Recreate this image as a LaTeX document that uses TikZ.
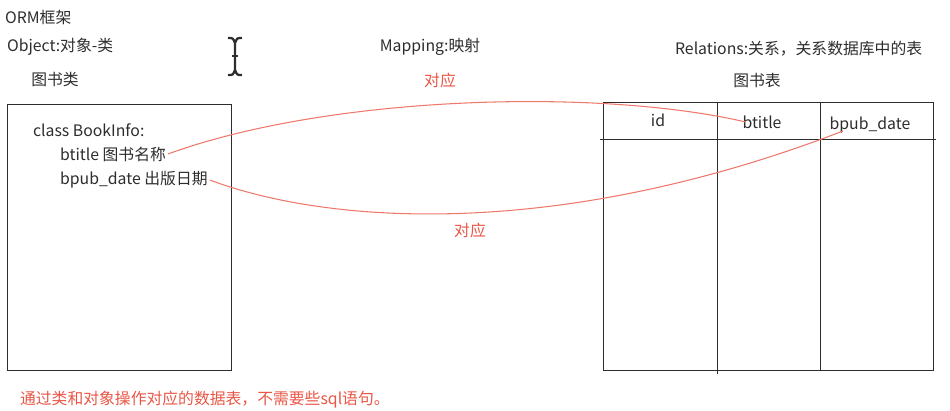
\documentclass[tikz,border=0pt]{standalone}
\usepackage{fontspec}
\setmainfont{Noto Sans CJK SC}
\usepackage{tikz}
\usetikzlibrary{positioning}
\definecolor{maptext}{RGB}{45,45,45}
\definecolor{mapred}{RGB}{232,86,70}

\begin{document}
\begin{tikzpicture}[x=0.02cm, y=-0.02cm, font=\fontsize{9}{11}\selectfont,
	lbl/.style={text=maptext, inner sep=1pt},
	redlbl/.style={text=mapred, inner sep=1pt},
	grid/.style={draw=maptext, line width=0.5pt},
	link/.style={draw=mapred!80, line width=0.6pt}]

\useasboundingbox (0,0) rectangle (950,411);

\node at (3,17) [lbl, anchor=west] (orm) {ORM框架};
\node at (5,47) [lbl, anchor=west] (obj) {Object:对象-类};
\node at (55,80) [lbl] (clsname) {图书类};
\node at (430,47) [lbl] (mapping) {Mapping:映射};
\node at (673,49) [lbl, anchor=west] (rel) {Relations:关系，关系数据库中的表};
\node at (757,80) [lbl] (tblname) {图书表};

\node at (7,104) [rectangle, grid, minimum width = 4.48cm, minimum height = 5.32cm, inner sep=0, anchor=north west] (book) {};
\node at (31,130) [lbl, anchor=west] (cls) {class BookInfo:};
\node at (58,154) [lbl, anchor=west] (fbtitle) {btitle 图书名称};
\node at (58,180) [lbl, anchor=west] (fbpub) {bpub\_date 出版日期};

\node at (603,102) [rectangle, grid, minimum width = 6.6cm, minimum height = 5.36cm, inner sep=0, anchor=north west] (tbl) {};
\draw [grid] (tbl.north west) ++(114,0) -- ++(0,272);
\draw [grid] (tbl.north west) ++(217,0) -- ++(0,268);
\draw [grid] (600,139) -- (936,139);
\node at (658,120) [lbl] (idcol) {id};
\node at (762,122) [lbl] (titlecol) {btitle};
\node at (870,125) [lbl] (datecol) {bpub\_date};
\coordinate (dateend) at (843,131);

\node at (440,80) [redlbl] (maptop) {对应};
\node at (470,230) [redlbl] (mapbot) {对应};

\node at (18,400) [redlbl, anchor=west] (note) {通过类和对象操作对应的数据表，不需要些sql语句。};

% text cursor
\draw [line width=1.3pt, maptext] (228,38) .. controls (233,38) .. (235,43) -- (235,70) .. controls (233,75) .. (228,75);
\draw [line width=1.3pt, maptext] (242,38) .. controls (237,38) .. (235,43);
\draw [line width=1.3pt, maptext] (242,75) .. controls (237,75) .. (235,70);
\draw [line width=1pt, maptext] (232,56) -- (238,56);

\begin{scope}
	\draw [link] (fbtitle.east) .. controls (330,95) and (600,88) .. ([xshift=3pt]titlecol.west);
	\draw [link] (fbpub.east) .. controls (330,225) and (560,240) .. (dateend);
\end{scope}

\end{tikzpicture}
\end{document}
